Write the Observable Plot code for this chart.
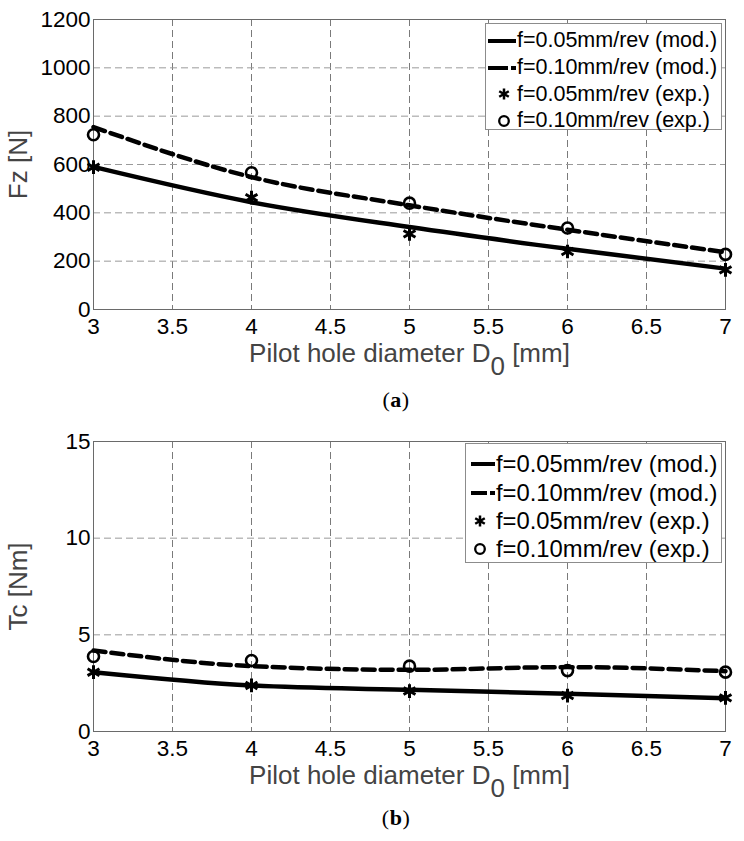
<!DOCTYPE html>
<html><head><meta charset="utf-8">
<script src="https://cdn.jsdelivr.net/npm/d3@7"></script>
<script src="https://cdn.jsdelivr.net/npm/@observablehq/plot@0.6"></script>
<style>
body{margin:0;background:#fff;font-family:"Liberation Sans",Arial,sans-serif;}
.panel{position:relative;width:744px;height:380px;}
.cap{font-family:"Liberation Serif","Times New Roman",serif;font-size:22px;letter-spacing:0.5px;text-align:center;padding-left:48px;width:696px;color:#000;}
.legend{position:absolute;background:#fff;border:1px solid #8c8c8c;box-sizing:border-box;}
.row{display:flex;align-items:center;white-space:nowrap;color:#000;}
.row svg{flex:none;}
</style></head><body>
<div id="a" class="panel"></div><div class="cap" style="height:42px;line-height:39px">(<b>a</b>)</div>
<div id="b" class="panel"></div><div class="cap" style="height:39px;line-height:32px">(<b>b</b>)</div>
<script>
const diameters = [3, 4, 5, 6, 7];
const fzMod005 = [590, 444, 341, 251, 169];
const fzMod010 = [755, 548, 431, 330, 237];
const fzExp005 = [589, 463, 313, 240, 164];
const fzExp010 = [723, 566, 440, 337, 228];
const tcMod005 = [3.07, 2.38, 2.16, 1.95, 1.72];
const tcMod010 = [4.19, 3.38, 3.19, 3.33, 3.12];
const tcExp005 = [3.07, 2.38, 2.09, 1.86, 1.74];
const tcExp010 = [3.88, 3.67, 3.38, 3.15, 3.07];
const xTicks = [3, 3.5, 4, 4.5, 5, 5.5, 6, 6.5, 7];
const fzTicks = [0, 200, 400, 600, 800, 1000, 1200];
const tcTicks = [0, 5, 10, 15];
const xLabel = "Pilot hole diameter D0 [mm]";
const legendLabels = ["f=0.05mm/rev (mod.)", "f=0.10mm/rev (mod.)", "f=0.05mm/rev (exp.)", "f=0.10mm/rev (exp.)"];

const FONT = "Liberation Sans, Arial, Helvetica, sans-serif";
const rows = (arr) => diameters.map((d, i) => ({d, v: arr[i]}));
const fmt = (d) => String(d);

function makePanel(id, yTicks, yLabel, mod005, mod010, exp005, exp010, leg) {
  const yMax = yTicks[yTicks.length - 1];
  const plot = Plot.plot({
    width: 744, height: 380,
    marginTop: 19, marginBottom: 71, marginLeft: 93, marginRight: 19,
    style: {fontFamily: FONT, background: "#fff", color: "#000", overflow: "visible"},
    x: {domain: [3, 7]},
    y: {domain: [0, yMax]},
    marks: [
      Plot.gridX(xTicks, {stroke: "#7a7a7a", strokeOpacity: 1, strokeDasharray: "7,4"}),
      Plot.gridY(yTicks, {stroke: "#9a9a9a", strokeOpacity: 1, strokeDasharray: "7,4"}),
      Plot.frame({stroke: "#6a6a6a"}),
      Plot.axisX(xTicks, {tickSize: 0, tickPadding: 9, fontSize: 22.5, fill: "#000", label: null, tickFormat: fmt}),
      Plot.axisX([], {label: xLabel, labelAnchor: "center", labelArrow: "none", labelOffset: 52, fontSize: 26, fill: "#444"}),
      Plot.axisY(yTicks, {tickSize: 0, tickPadding: 3, fontSize: 22.5, fill: "#000", label: null, tickFormat: fmt}),
      Plot.axisY([], {label: yLabel, labelAnchor: "center", labelArrow: "none", labelOffset: 85, fontSize: 26, fill: "#444"}),
      Plot.line(rows(mod005), {x: "d", y: "v", curve: "monotone-x", stroke: "#000", strokeWidth: 4.5}),
      Plot.line(rows(mod010), {x: "d", y: "v", curve: "monotone-x", stroke: "#000", strokeWidth: 4.5, strokeDasharray: "12,6"}),
      Plot.dot(rows(exp005), {x: "d", y: "v", symbol: "asterisk", r: 6.5, stroke: "#000", strokeWidth: 3}),
      Plot.dot(rows(exp010), {x: "d", y: "v", symbol: "circle", r: 5.5, stroke: "#000", strokeWidth: 2.6, fill: "none"})
    ]
  });
  const host = document.getElementById(id);
  host.appendChild(plot);
  // subscript in x label
  const t = plot.querySelector('g[aria-label="x-axis label"] text');
  if (t) {
    const parts = xLabel.split("D0");
    t.textContent = parts[0] + "D";
    const s = document.createElementNS("http://www.w3.org/2000/svg", "tspan");
    s.setAttribute("dy", "13"); s.textContent = "0";
    const r = document.createElementNS("http://www.w3.org/2000/svg", "tspan");
    r.setAttribute("dy", "-13"); r.textContent = parts[1];
    t.appendChild(s); t.appendChild(r);
  }
  // legend
  const L = document.createElement("div");
  L.className = "legend";
  Object.assign(L.style, {left: leg.left + "px", top: leg.top + "px", width: leg.w + "px", height: leg.h + "px", paddingTop: leg.pad + "px", fontSize: leg.fs + "px"});
  const sw = leg.sw, cx = leg.cx;
  const swatches = [
    `<line x1="${leg.lx}" x2="${leg.lx + leg.lw}" y1="10" y2="10" stroke="#000" stroke-width="4"/>`,
    `<line x1="${leg.lx}" x2="${leg.lx + leg.lw}" y1="10" y2="10" stroke="#000" stroke-width="4" stroke-dasharray="${leg.lw - 8},3,5,100"/>`,
    `<g transform="translate(${cx},10)" stroke="#000" stroke-width="2.5"><path d="M0,-5.5V5.5M-4.8,-2.75L4.8,2.75M-4.8,2.75L4.8,-2.75"/></g>`,
    `<circle cx="${cx}" cy="10" r="4.8" fill="none" stroke="#000" stroke-width="2.3"/>`
  ];
  legendLabels.forEach((lab, i) => {
    const row = document.createElement("div");
    row.className = "row";
    row.style.height = leg.rh + "px";
    row.innerHTML = `<svg width="${sw}" height="20">${swatches[i]}</svg><span>${lab}</span>`;
    L.appendChild(row);
  });
  host.appendChild(L);
}

makePanel("a", fzTicks, "Fz [N]", fzMod005, fzMod010, fzExp005, fzExp010,
  {left: 485, top: 23, w: 237, h: 107, pad: 3.5, fs: 21.5, rh: 26.7, sw: 31, lx: 2, lw: 28, cx: 18});
makePanel("b", tcTicks, "Tc [Nm]", tcMod005, tcMod010, tcExp005, tcExp010,
  {left: 465, top: 20.7, w: 257, h: 120, pad: 6.6, fs: 23.8, rh: 28.3, sw: 30, lx: 5, lw: 24, cx: 14});
</script>
</body></html>
